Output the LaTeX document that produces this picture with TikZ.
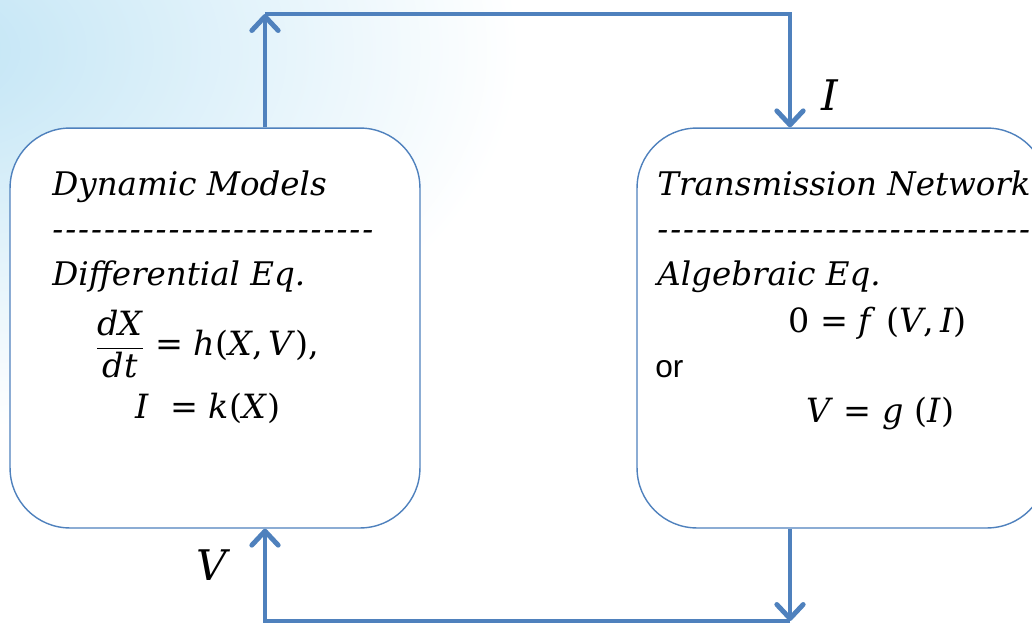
\documentclass[tikz,border=0pt]{standalone}
\usepackage{fontspec}
\setmainfont{DejaVu Serif}
\newfontfamily\orfont{Liberation Sans}
\usepackage{amsmath}
\usetikzlibrary{arrows.meta,positioning,calc}
\definecolor{linkblue}{RGB}{79,129,189}
\definecolor{skyblue}{RGB}{192,228,245}
\newcommand\dashrow[1]{\foreach \k in {1,...,#1}{-\kern1.1pt}}
\newcommand\vr[1]{\textit{#1}}

\begin{document}
\begin{tikzpicture}[x=0.02cm, y=-0.02cm,
  block/.style={rectangle, draw=linkblue, line width=0.8pt, fill=white, rounded corners=1.2cm, minimum width=8.2cm, minimum height=8cm},
  arr/.style={-{Straight Barb[length=8pt, width=15pt, round]}, line width=2.8pt, linkblue},
  txt/.style={anchor=base west, inner sep=0pt, font=\fontsize{18.5}{22}\selectfont\itshape},
  eq/.style={inner sep=0pt, font=\fontsize{19}{23}\selectfont},
  lbl/.style={inner sep=0pt, font=\fontsize{24}{28}\selectfont\itshape}
]
  \clip (0,0) rectangle (1032,627);
  \shade[inner color=skyblue, outer color=white] (-80,50) ellipse (600 and 380);

  \node[block] (dyn) at (215,328) {};
  \node[block] (net) at (842,328) {};

  \node[txt] (dyntitle) at (52,195) {Dynamic Models};
  \node[txt] (dyndash) at (52,240) {\dashrow{25}};
  \node[txt] (difftitle) at (52,285) {Differential Eq.};
  \node[eq, anchor=west] (deq) at (95,344) {$\displaystyle\frac{\text{\itshape dX}}{\text{\itshape dt}}$ = \vr{h}(\vr{X},\,\vr{V}),};
  \node[eq, anchor=base west] (keq) at (135,418) {\vr{I}\ \ = \vr{k}(\vr{X})};

  \node[txt] (nettitle) at (657,195) {Transmission Network};
  \node[txt] (netdash) at (657,240) {\dashrow{30}};
  \node[txt] (algtitle) at (657,285) {Algebraic Eq.};
  \node[eq, anchor=base west] (feq) at (788,332) {0 = \vr{f} (\vr{V},\,\vr{I})};
  \node[anchor=base west, inner sep=0pt, font=\orfont\fontsize{18}{22}\selectfont] (ortxt) at (655,377) {or};
  \node[eq, anchor=base west] (geq) at (806,422) {\vr{V} = \vr{g} (\vr{I})};

  \coordinate (tl) at (265,14);
  \coordinate (tr) at (790,14);
  \coordinate (br) at (790,621);
  \coordinate (bl) at (265,621);

  \draw[arr] (tl |- dyn.north) -- (tl);
  \draw[arr] (tl) -- (tr) -- (tr |- net.north);
  \draw[arr] (br |- net.south) -- (br);
  \draw[arr] (br) -- (bl) -- (bl |- dyn.south);

  \node[lbl] (ilbl) at (830,95) {I};
  \node[lbl] (vlbl) at (212,565) {V};
\end{tikzpicture}
\end{document}
